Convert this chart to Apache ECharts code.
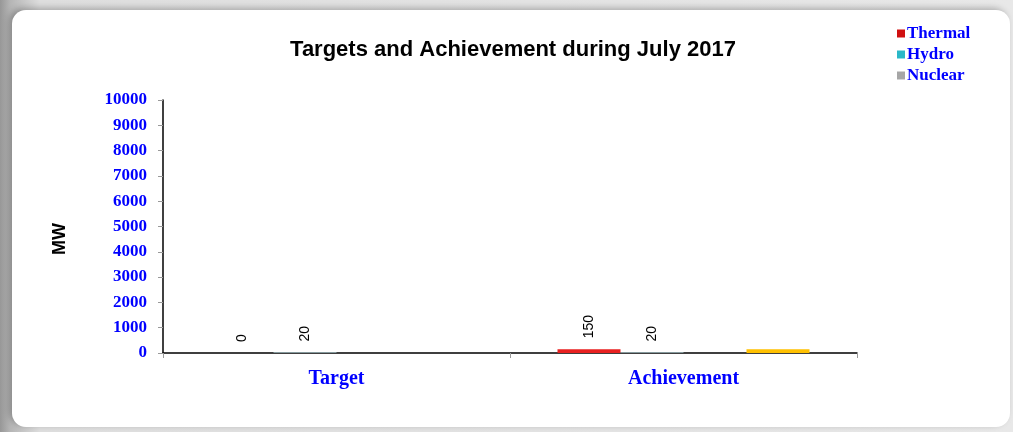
<!DOCTYPE html>
<html>
<head>
<meta charset="utf-8">
<script src="https://cdn.jsdelivr.net/npm/echarts@6/dist/echarts.min.js"></script>
<style>
html,body{margin:0;padding:0;width:1013px;height:432px;overflow:hidden;}
body{background:linear-gradient(to right,#979797 0px,#b5b5b5 10px,#dedede 40px,#e8e8e8 100%);position:relative;}
#frame{position:absolute;left:12px;top:10px;width:998px;height:417px;background:#fff;border-radius:14px;box-shadow:-3px -2px 6px rgba(0,0,0,0.25);}
#chart{position:absolute;left:0;top:0;width:1013px;height:432px;}
</style>
</head>
<body>
<div id="frame"></div>
<div id="chart"></div>
<script>
var categories = ['Target', 'Achievement'];
var thermal = [0, 150];
var hydro = [20, 20];
var nuclear = [0, 0];
var other = [0, 150];
var yTicks = [0, 1000, 2000, 3000, 4000, 5000, 6000, 7000, 8000, 9000, 10000];

var chart = echarts.init(document.getElementById('chart'), null, {renderer: 'canvas'});
var blueSerif = {color: '#0000ff', fontFamily: 'Liberation Serif, Times New Roman, serif', fontWeight: 'bold'};
function lbl(show) {
  return {
    show: show, position: 'top', rotate: 90, distance: 11, align: 'left', verticalAlign: 'middle',
    color: '#000', fontFamily: 'Liberation Sans, Arial, sans-serif', fontSize: 14
  };
}
chart.setOption({
  backgroundColor: 'transparent',
  animation: false,
  title: {
    text: 'Targets and Achievement during July 2017',
    left: 508, top: 34, textAlign: 'center',
    textStyle: {fontFamily: 'Liberation Sans, Arial, sans-serif', fontWeight: 'bold', fontSize: 22, color: '#000'}
  },
  legend: {
    orient: 'vertical', left: 892, top: 20, itemWidth: 8, itemHeight: 8, itemGap: 4,
    textStyle: Object.assign({fontSize: 17, padding: [0, 0, 0, -3]}, blueSerif),
    data: [
      {name: 'Thermal', icon: 'rect', itemStyle: {color: '#d01010'}},
      {name: 'Hydro', icon: 'rect', itemStyle: {color: '#2ab8c8'}},
      {name: 'Nuclear', icon: 'rect', itemStyle: {color: '#a6a6a6'}}
    ]
  },
  graphic: [{
    type: 'text', x: 60, y: 239, rotation: Math.PI / 2,
    style: {text: 'MW', fill: '#000', font: 'bold 18px "Liberation Sans", Arial, sans-serif', align: 'center', verticalAlign: 'middle'}
  }],
  grid: {left: 163, right: 156, top: 100, bottom: 79, containLabel: false},
  xAxis: {
    type: 'category', data: categories,
    axisLine: {lineStyle: {color: '#000', width: 1.5}},
    axisTick: {show: true, length: 5, lineStyle: {color: '#999'}},
    axisLabel: Object.assign({fontSize: 20, margin: 16}, blueSerif)
  },
  yAxis: {
    type: 'value', min: 0, max: 10000, interval: 1000,
    axisLine: {show: true, lineStyle: {color: '#000', width: 1.5}},
    axisTick: {show: true, length: 5, lineStyle: {color: '#999'}},
    splitLine: {show: false},
    axisLabel: Object.assign({fontSize: 17, margin: 16, formatter: function (v) { return yTicks.indexOf(v) >= 0 ? String(v) : ''; }}, blueSerif)
  },
  series: [
    {name: 'Thermal', type: 'bar', data: thermal, barWidth: 63, barGap: '0%', itemStyle: {color: '#e82020'}, label: lbl(true)},
    {name: 'Hydro', type: 'bar', data: hydro, barWidth: 63, barGap: '0%', itemStyle: {color: '#ccf3fa'}, label: lbl(true)},
    {name: 'Nuclear', type: 'bar', data: nuclear, barWidth: 63, barGap: '0%', itemStyle: {color: '#a6a6a6'}, label: lbl(false)},
    {name: 'Other', type: 'bar', data: other, barWidth: 63, barGap: '0%', itemStyle: {color: '#ffc000'}, label: lbl(false)}
  ]
});
</script>
</body>
</html>
